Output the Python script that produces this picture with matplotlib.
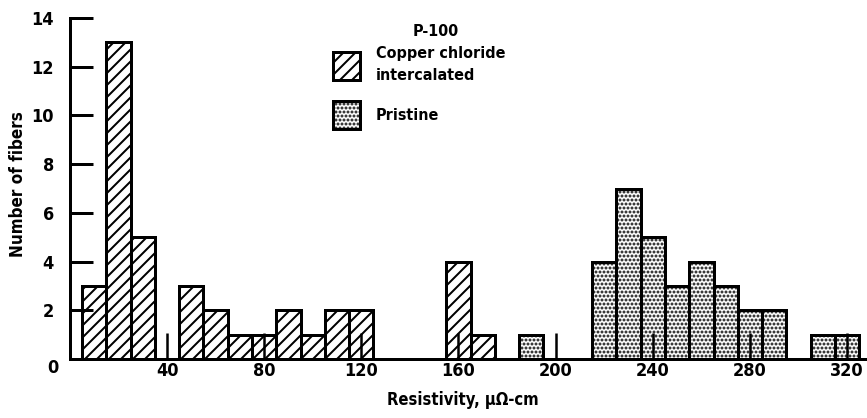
import matplotlib
matplotlib.use('Agg')
import matplotlib.pyplot as plt
from matplotlib.patches import Patch

# bin centres (resistivity, uOhm-cm) and number of fibers, bins 10 wide
intercalated_x = [10, 20, 30, 50, 60, 70, 80, 90, 100, 110, 120, 160, 170]
intercalated_n = [3, 13, 5, 3, 2, 1, 1, 2, 1, 2, 2, 4, 1]
pristine_x = [190, 220, 230, 240, 250, 260, 270, 280, 290, 310, 320]
pristine_n = [1, 4, 7, 5, 3, 4, 3, 2, 2, 1, 1]
bin_width = 10

xticks = [40, 80, 120, 160, 200, 240, 280, 320]
yticks = [2, 4, 6, 8, 10, 12, 14]

# condensed bold look of the original lettering
plt.rcParams['font.family'] = ['DejaVu Sans']
plt.rcParams['font.stretch'] = 'condensed'
plt.rcParams['font.weight'] = 'bold'
plt.rcParams['hatch.linewidth'] = 2.0

# dpi 72 so 1 pt == 1 px, hatch spacing follows dpi
fig = plt.figure(figsize=(867 / 72, 418 / 72), dpi=72)
ax = fig.add_axes([0.0806, 0.1411, 0.9194, 0.8158])

ax.bar(intercalated_x, intercalated_n, width=bin_width, facecolor='white',
       edgecolor='black', linewidth=3, hatch='//')
ax.bar(pristine_x, pristine_n, width=bin_width, facecolor='white',
       edgecolor='black', linewidth=3, hatch='...')

ax.set_xlim(0, 328.2)
ax.set_ylim(0, 14)

for side in ['top', 'right']:
    ax.spines[side].set_visible(False)
for side in ['left', 'bottom']:
    ax.spines[side].set_linewidth(3)

ax.set_xticks(xticks)
ax.set_yticks(yticks)
ax.tick_params(axis='x', direction='in', length=26, width=2.5, labelsize=18, pad=3)
ax.tick_params(axis='y', direction='in', length=23, width=3, labelsize=18, pad=16)

# corner zero label
ax.text(-7, -0.37, '0', ha='center', va='center', fontsize=18)

ax.set_xlabel('Resistivity, \u03bc\u03a9-cm', fontsize=16.5, fontweight='bold')
ax.xaxis.set_label_coords((463 - 69.9) / 797.1, -0.094)
ax.set_ylabel('Number of fibers', fontsize=17, fontweight='bold')
ax.yaxis.set_label_coords(-0.054, 0.513)

ax.text((436 - 69.9) / 797.1, (359 - 31) / 341, 'P-100', transform=ax.transAxes,
        ha='center', va='center', fontsize=16)

handles = [Patch(facecolor='white', edgecolor='black', linewidth=3, hatch='//'),
           Patch(facecolor='white', edgecolor='black', linewidth=3, hatch='...')]
labels = ['Copper chloride\nintercalated', 'Pristine']
leg = ax.legend(handles, labels, frameon=False, fontsize=16,
                handlelength=1.69, handleheight=2.32, handletextpad=1.0,
                labelspacing=1.1, loc='upper left', borderpad=0, borderaxespad=0,
                bbox_to_anchor=((333 - 69.9) / 797.1, (359 - 46) / 341))
for t in leg.get_texts():
    t.set_linespacing(1.6)

fig.savefig('out.png', dpi=72)
